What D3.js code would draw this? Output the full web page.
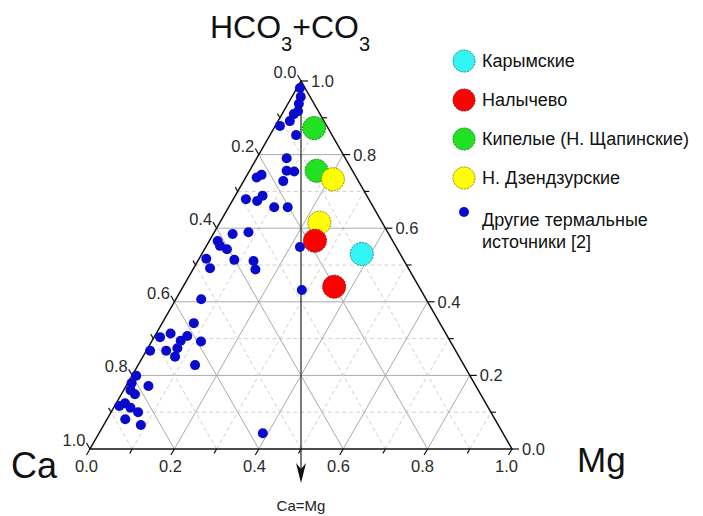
<!DOCTYPE html>
<html>
<head>
<meta charset="utf-8">
<script src="https://cdn.jsdelivr.net/npm/d3@7"></script>
<style>
  body { margin: 0; background: #fff; }
  text { font-family: "Liberation Sans", Arial, sans-serif; }
</style>
</head>
<body>
<div id="chart"></div>
<script>
// ternary data, each point is [Ca, Mg, HCO3+CO3]
let karymskie = [[0.091, 0.379, 0.530]];
let nalychevo = [[0.184, 0.250, 0.566], [0.201, 0.358, 0.441]];
let kipelye = [[0.033, 0.095, 0.872], [0.085, 0.159, 0.756]];
let dzendzur = [[0.058, 0.209, 0.733], [0.149, 0.236, 0.615]];
let others = [
    [0.012, 0.007, 0.981], [0.022, 0.021, 0.957], [0.036, 0.026, 0.938], [0.048, 0.034, 0.918],
    [0.062, 0.028, 0.910], [0.081, 0.028, 0.891], [0.111, 0.011, 0.878], [0.085, 0.062, 0.853],
    [0.139, 0.071, 0.790], [0.156, 0.088, 0.756], [0.139, 0.107, 0.754], [0.178, 0.094, 0.728],
    [0.236, 0.026, 0.738], [0.221, 0.034, 0.745], [0.291, 0.030, 0.679], [0.267, 0.059, 0.674],
    [0.247, 0.065, 0.688], [0.235, 0.108, 0.657], [0.203, 0.140, 0.657], [0.370, 0.046, 0.584],
    [0.330, 0.081, 0.589], [0.415, 0.020, 0.565], [0.416, 0.032, 0.552], [0.404, 0.053, 0.543],
    [0.401, 0.085, 0.514], [0.357, 0.132, 0.511], [0.364, 0.148, 0.488], [0.466, 0.017, 0.517],
    [0.470, 0.039, 0.491], [0.228, 0.223, 0.549], [0.282, 0.286, 0.432], [0.533, 0.060, 0.407],
    [0.583, 0.075, 0.342], [0.682, 0.014, 0.304], [0.652, 0.034, 0.314], [0.616, 0.077, 0.307],
    [0.638, 0.068, 0.294], [0.591, 0.117, 0.292], [0.656, 0.070, 0.274], [0.686, 0.047, 0.267],
    [0.724, 0.009, 0.267], [0.673, 0.076, 0.251], [0.637, 0.135, 0.228], [0.791, 0.010, 0.199],
    [0.812, 0.009, 0.179], [0.776, 0.053, 0.171], [0.824, 0.016, 0.160], [0.819, 0.032, 0.149],
    [0.855, 0.021, 0.124], [0.872, 0.011, 0.117], [0.848, 0.040, 0.112], [0.836, 0.064, 0.100],
    [0.876, 0.043, 0.081], [0.847, 0.088, 0.065], [0.569, 0.388, 0.043]
];
let tickValues = [0, 0.1, 0.2, 0.3, 0.4, 0.5, 0.6, 0.7, 0.8, 0.9, 1.0];
let labelValues = [0, 0.2, 0.4, 0.6, 0.8, 1.0];
let legendNames = ["Карымские", "Налычево", "Кипелые (Н. Щапинские)", "Н. Дзендзурские", "Другие термальные"];

let w = 703;
let h = 516;

let viz = d3.select("#chart")
    .append("svg")
    .attr("width", w)
    .attr("height", h)
    .style("display", "block");

// x runs along the bottom side, y is the HCO3 share
let xScale = d3.scaleLinear().domain([0, 1]).range([90, 512]);
let yScale = d3.scaleLinear().domain([0, 1]).range([449, 81]);

function px(d) {
    return [xScale(d[1] + d[2] / 2), yScale(d[2])];
}

// grid lines, solid on 0.2 steps and dashed in between
let gridG = viz.append("g");
tickValues.slice(1, 10).forEach(function (v) {
    let major = Math.round(v * 10) % 2 == 0;
    let lines = [
        [[1 - v, 0, v], [0, 1 - v, v]],
        [[1 - v, v, 0], [0, v, 1 - v]],
        [[v, 1 - v, 0], [v, 0, 1 - v]]
    ];
    lines.forEach(function (l) {
        let a = px(l[0]), b = px(l[1]);
        gridG.append("line")
            .attr("x1", a[0]).attr("y1", a[1])
            .attr("x2", b[0]).attr("y2", b[1])
            .attr("stroke", major ? "#aaaaaa" : "#d0d0d0")
            .attr("stroke-width", 1)
            .attr("stroke-dasharray", major ? null : "4,3");
    });
});

// Ca=Mg line with the arrow below the triangle
let apex = px([0, 0, 1]);
let mid = px([0.5, 0.5, 0]);
viz.append("line")
    .attr("x1", apex[0]).attr("y1", apex[1])
    .attr("x2", mid[0]).attr("y2", mid[1] + 20)
    .attr("stroke", "#333")
    .attr("stroke-width", 1.3);
viz.append("path")
    .attr("d", "M" + mid[0] + "," + (mid[1] + 34) +
        "L" + (mid[0] - 5) + "," + (mid[1] + 14) +
        "L" + mid[0] + "," + (mid[1] + 20) +
        "L" + (mid[0] + 5) + "," + (mid[1] + 14) + "Z")
    .attr("fill", "#111");
viz.append("text")
    .attr("x", mid[0])
    .attr("y", 511)
    .attr("text-anchor", "middle")
    .attr("font-size", 15)
    .attr("fill", "#222")
    .text("Ca=Mg");

// triangle border
let corners = [px([1, 0, 0]), px([0, 1, 0]), px([0, 0, 1])];
viz.append("path")
    .attr("d", "M" + corners.map(function (c) { return c.join(","); }).join("L") + "Z")
    .attr("fill", "none")
    .attr("stroke", "#111")
    .attr("stroke-width", 1.5);

// ticks and labels on the three sides
let axes = [
    { pt: function (v) { return [1 - v, v, 0]; }, dir: [-0.5, 0.866] },
    { pt: function (v) { return [v, 0, 1 - v]; }, dir: [-0.5, -0.866] },
    { pt: function (v) { return [0, 1 - v, v]; }, dir: [1, 0] }
];
let axisG = viz.append("g");
axes.forEach(function (ax, k) {
    tickValues.forEach(function (v) {
        let p = px(ax.pt(v));
        let major = Math.round(v * 10) % 2 == 0;
        let len = major ? 7 : 5;
        axisG.append("line")
            .attr("x1", p[0]).attr("y1", p[1])
            .attr("x2", p[0] + ax.dir[0] * len).attr("y2", p[1] + ax.dir[1] * len)
            .attr("stroke", "#111")
            .attr("stroke-width", 1.2);
    });
    labelValues.forEach(function (v) {
        let p = px(ax.pt(v));
        let ex = p[0] + ax.dir[0] * 7, ey = p[1] + ax.dir[1] * 7;
        let t = axisG.append("text")
            .attr("font-size", 16.5)
            .attr("fill", "#2a2a2a")
            .text(v.toFixed(1));
        if (k == 0) {
            t.attr("x", ex - 2 * v).attr("y", ey + 17).attr("text-anchor", "middle");
        } else if (k == 1) {
            t.attr("x", ex - 1).attr("y", ey + 3).attr("text-anchor", "end");
        } else {
            t.attr("x", ex + 3).attr("y", ey + 6).attr("text-anchor", "start");
        }
    });
});

// other thermal springs
viz.append("g")
    .selectAll("circle")
    .data(others)
    .enter()
    .append("circle")
    .attr("cx", function (d) { return px(d)[0]; })
    .attr("cy", function (d) { return px(d)[1]; })
    .attr("r", 5)
    .attr("fill", "#0a0acc");

// the four studied groups
let groups = [
    { data: kipelye, fill: "#22e022", stroke: "#1a8a1a" },
    { data: dzendzur, fill: "#ffff00", stroke: "#8a8a10" },
    { data: nalychevo, fill: "#ff0000", stroke: "#8a1010" },
    { data: karymskie, fill: "#33f5f5", stroke: "#1a8a8a" }
];
groups.forEach(function (g) {
    viz.append("g")
        .selectAll("circle")
        .data(g.data)
        .enter()
        .append("circle")
        .attr("cx", function (d) { return px(d)[0]; })
        .attr("cy", function (d) { return px(d)[1]; })
        .attr("r", 11.5)
        .attr("fill", g.fill)
        .attr("stroke", g.stroke)
        .attr("stroke-width", 1)
        .attr("stroke-dasharray", "2,1");
});

// axis titles
let title = viz.append("text")
    .attr("x", 210)
    .attr("y", 38)
    .attr("font-size", 32)
    .attr("fill", "#111");
title.append("tspan").text("HCO");
title.append("tspan").attr("font-size", 20).attr("dy", 13).text("3");
title.append("tspan").attr("dy", -13).text("+CO");
title.append("tspan").attr("font-size", 20).attr("dy", 13).text("3");

viz.append("text")
    .attr("x", 11)
    .attr("y", 478)
    .attr("font-size", 36)
    .attr("fill", "#111")
    .text("Ca");
viz.append("text")
    .attr("x", 577)
    .attr("y", 472)
    .attr("font-size", 35)
    .attr("fill", "#111")
    .text("Mg");

// legend
let legendStyle = [
    { fill: "#33f5f5", stroke: "#1a8a8a", r: 11, y: 61 },
    { fill: "#ff0000", stroke: "#8a1010", r: 11, y: 100 },
    { fill: "#22e022", stroke: "#1a8a1a", r: 11, y: 139 },
    { fill: "#ffff00", stroke: "#8a8a10", r: 11, y: 178 },
    { fill: "#0a0acc", stroke: "none", r: 5, y: 212 }
];
let legend = viz.append("g");
legendNames.forEach(function (name, i) {
    let s = legendStyle[i];
    legend.append("circle")
        .attr("cx", 464)
        .attr("cy", s.y)
        .attr("r", s.r)
        .attr("fill", s.fill)
        .attr("stroke", s.stroke)
        .attr("stroke-dasharray", "2,1");
    legend.append("text")
        .attr("x", 482)
        .attr("y", i == 4 ? 226 : s.y + 6)
        .attr("font-size", 18)
        .attr("fill", "#111")
        .text(name);
});
legend.append("text")
    .attr("x", 482)
    .attr("y", 248)
    .attr("font-size", 18)
    .attr("fill", "#111")
    .text("источники [2]");
</script>
</body>
</html>
